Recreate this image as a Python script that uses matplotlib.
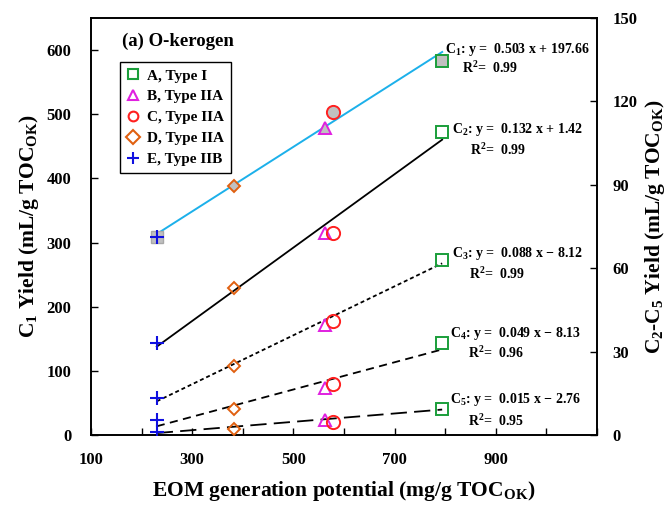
import matplotlib
matplotlib.use("Agg")
import matplotlib.pyplot as plt
import numpy as np
from matplotlib.lines import Line2D
from matplotlib.ticker import MultipleLocator, FuncFormatter

plt.rcParams['font.family'] = ['Liberation Serif', 'DejaVu Serif']
plt.rcParams['font.weight'] = 'bold'
plt.rcParams['mathtext.fontset'] = 'custom'
plt.rcParams['mathtext.rm'] = 'Liberation Serif:bold'
plt.rcParams['mathtext.it'] = 'Liberation Serif:italic:bold'
plt.rcParams['mathtext.bf'] = 'Liberation Serif:bold'

# ---- data ----
samples = ["A, Type I", "B, Type IIA", "C, Type IIA", "D, Type IIA", "E, Type IIB"]
eom = [794, 562, 578, 383, 230]
c1 = [583, 479, 504, 388, 309]
c2 = [109, 72.7, 72.7, 52.9, 33.1]
c3 = [63, 39.6, 41, 24.8, 13.3]
c4 = [33.1, 16.9, 18.3, 9.4, 5.4]
c5 = [9.4, 5.4, 4.7, 2.2, 1.1]
fit_slope = [0.503, 0.132, 0.088, 0.049, 0.015]
fit_icpt = [197.66, 1.42, -8.12, -8.13, -2.76]
fit_r2 = [0.99, 0.99, 0.99, 0.96, 0.95]
fit_labels = ["C$_1$: y =  0.503 x + 197.66", "C$_2$: y =  0.132 x + 1.42",
              "C$_3$: y =  0.088 x \u2212 8.12", "C$_4$: y =  0.049 x \u2212 8.13",
              "C$_5$: y =  0.015 x \u2212 2.76"]
x_ticks = [100, 300, 500, 700, 900]

markers = ['s', '^', 'o', 'D', '+']
colors = ['#1a9e3a', '#e020e0', '#ff2020', '#e06010', '#1010e0']
msizes = [8.5, 8.5, 9.5, 6.5, 10]

W, H = 670, 505
fig = plt.figure(figsize=(W / 100, H / 100), dpi=100)
ax = fig.add_axes([91 / W, 1 - 435 / H, (597 - 91) / W, (435 - 18) / H])
ax2 = ax.twinx()

ax.set_xlim(100, 1100)
ax.set_ylim(0, 650)
ax2.set_ylim(0, 150)

xs = np.array([min(eom), max(eom)])
# C1 line (left axis)
ax.plot(xs, fit_slope[0] * xs + fit_icpt[0], color='#1cb0ea', lw=1.4, zorder=2)
styles = ['-', (0, (2.2, 1.6)), (0, (4.5, 3)), (0, (9, 4))]
for i in range(4):
    ax2.plot(xs, fit_slope[i + 1] * xs + fit_icpt[i + 1], color='black', lw=1.3,
             linestyle=styles[i], zorder=2)

grey = '#c0c0c0'
for j in range(5):
    if markers[j] == '+':
        ax.plot(eom[j], c1[j], marker='s', ms=8.5, mfc=grey, mec='#a8a8a8', ls='none', zorder=3)
        ax.plot(eom[j], c1[j], marker='+', ms=msizes[j], mew=1.5, color=colors[j], ls='none', zorder=4)
    else:
        ax.plot(eom[j], c1[j], marker=markers[j], ms=msizes[j], mfc=grey, mec=colors[j],
                mew=1.4, ls='none', zorder=3)
for ys in [c2, c3, c4, c5]:
    for j in range(5):
        if markers[j] == '+':
            ax2.plot(eom[j], ys[j], marker='+', ms=msizes[j], mew=1.5, color=colors[j], ls='none', zorder=4)
        else:
            ax2.plot(eom[j], ys[j], marker=markers[j], ms=msizes[j], mfc='none', mec=colors[j],
                     mew=1.4, ls='none', zorder=3)

# ticks
ax.xaxis.set_major_locator(MultipleLocator(100))
ax.xaxis.set_major_formatter(FuncFormatter(lambda v, p: f"{int(round(v))}" if int(round(v)) in x_ticks else ""))
ax.yaxis.set_major_locator(MultipleLocator(100))
ax2.yaxis.set_major_locator(MultipleLocator(30))
ax.tick_params(axis='x', direction='in', length=5, width=1, pad=12, labelsize=12)
ax.tick_params(axis='y', direction='in', length=5, width=1, pad=14, labelsize=12)
ax2.tick_params(axis='y', direction='in', length=5, width=1, pad=11, labelsize=12)
for a in (ax, ax2):
    for s in a.spines.values():
        s.set_linewidth(1.2)

ax.set_xlabel("EOM generation potential (mg/g TOC$_{\\mathrm{OK}}$)", fontsize=15.5, fontweight='bold', labelpad=8)
ax.set_ylabel("C$_1$ Yield (mL/g TOC$_{\\mathrm{OK}}$)", fontsize=15.5, fontweight='bold', labelpad=4)
ax2.set_ylabel("C$_2$-C$_5$ Yield (mL/g TOC$_{\\mathrm{OK}}$)", fontsize=15.5, fontweight='bold', labelpad=4)

fig.text(122 / W, 1 - 41 / H, "(a) O-kerogen", fontsize=13.5, fontweight='bold', va='center', ha='left')

# legend
handles = []
for j in range(5):
    if markers[j] == '+':
        handles.append(Line2D([], [], marker='+', ms=8, mew=1.5, color=colors[j], ls='none'))
    else:
        handles.append(Line2D([], [], marker=markers[j], ms=7, mfc='none', mec=colors[j], mew=1.5, ls='none'))
leg = ax.legend(handles, samples, loc='upper left', bbox_to_anchor=((120 - 91) / 506, (435 - 62) / 417),
                frameon=True, fancybox=False, edgecolor='black', framealpha=1,
                prop={'family': 'Liberation Serif', 'weight': 'bold', 'size': 11},
                handlelength=0.8, handletextpad=0.5, labelspacing=0.47, borderpad=0.45, borderaxespad=0)
leg.get_frame().set_linewidth(1.0)

# fit annotations
eq_pos = [(445, 49), (452, 130), (452, 254), (450, 334), (450, 400)]
r2_pos = [(462, 68), (470, 150), (469, 274), (468, 353), (468, 421)]
for k in range(5):
    fig.text(eq_pos[k][0] / W, 1 - eq_pos[k][1] / H, fit_labels[k], fontsize=10,
             fontweight='bold', va='center', ha='left')
    fig.text(r2_pos[k][0] / W, 1 - r2_pos[k][1] / H, f"R$^2$=  {fit_r2[k]:.2f}", fontsize=10,
             fontweight='bold', va='center', ha='left')

fig.savefig("out.png", dpi=100)
